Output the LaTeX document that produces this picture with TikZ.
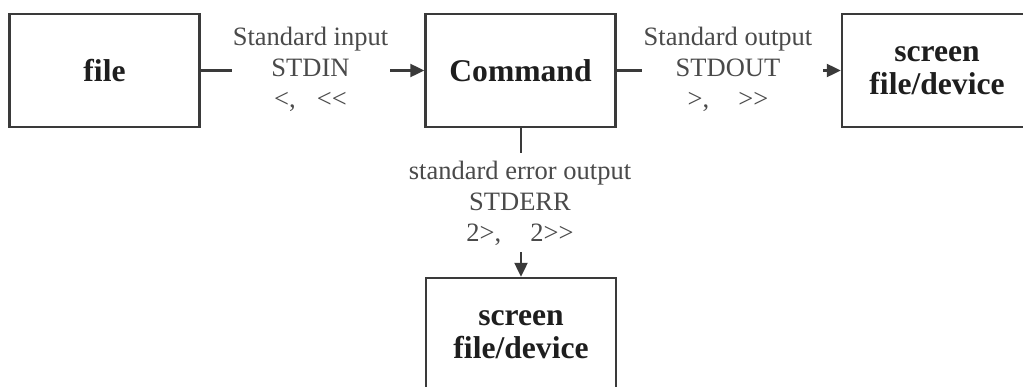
\documentclass[tikz,border=0pt]{standalone}
\usepackage{fontspec}
\setmainfont{Liberation Serif}
\usetikzlibrary{arrows.meta}
\definecolor{linec}{HTML}{3A3A3A}
\definecolor{labc}{HTML}{4A4A4A}
\definecolor{boxtxt}{HTML}{1E1E1E}
\begin{document}
\begin{tikzpicture}[x=0.5pt,y=-0.5pt,
  box/.style={draw=linec,line width=1.2pt,minimum width=95pt,minimum height=56.5pt,inner sep=0pt,
    align=center,text=boxtxt,font=\fontsize{15.8}{16.5}\selectfont\bfseries},
  lab/.style={inner sep=0pt,align=center,text=labc,font=\fontsize{13.25}{15.5}\selectfont},
  conn/.style={draw=linec,line width=1.1pt},
  arr/.style={conn,-{Triangle[length=7pt,width=6.5pt]}}]
\useasboundingbox (0,0) rectangle (1023,386);
\fill[white] (0,0) rectangle (1023,386);
% boxes
\node[box] (file) at (104.5,70.5) {file};
\node[box] (cmd) at (520.5,70.5) {Command};
\node[box] (out) at (937,70.5) {screen\\file/device};
\node[box] (err) at (521,334.5) {screen\\file/device};
% labels
\node[lab] (lin) at (310.5,69) {Standard input\\STDIN\\<,\hspace{0.8em}<\kern0pt<};
\node[lab] (lout) at (728,69) {Standard output\\STDOUT\\>,\hspace{1.1em}>\kern0pt>};
\node[lab] (lerr) at (520,203) {standard error output\\STDERR\\2>,\hspace{1.1em}2>\kern0pt>};
% break points
\coordinate (a1) at (232,70.5);
\coordinate (a2) at (390,70.5);
\coordinate (b1) at (642,70.5);
\coordinate (b2) at (823,70.5);
\coordinate (c1) at (521,153);
\coordinate (c2) at (521,252);
% connectors
\draw[conn] (file.east) -- (a1);
\draw[arr] (a2) -- (cmd.west);
\draw[conn] (cmd.east) -- (b1);
\draw[arr] (b2) -- (out.west);
\draw[conn] (cmd.south -| c1) -- (c1);
\draw[arr] (c2) -- (err.north);
\end{tikzpicture}
\end{document}
